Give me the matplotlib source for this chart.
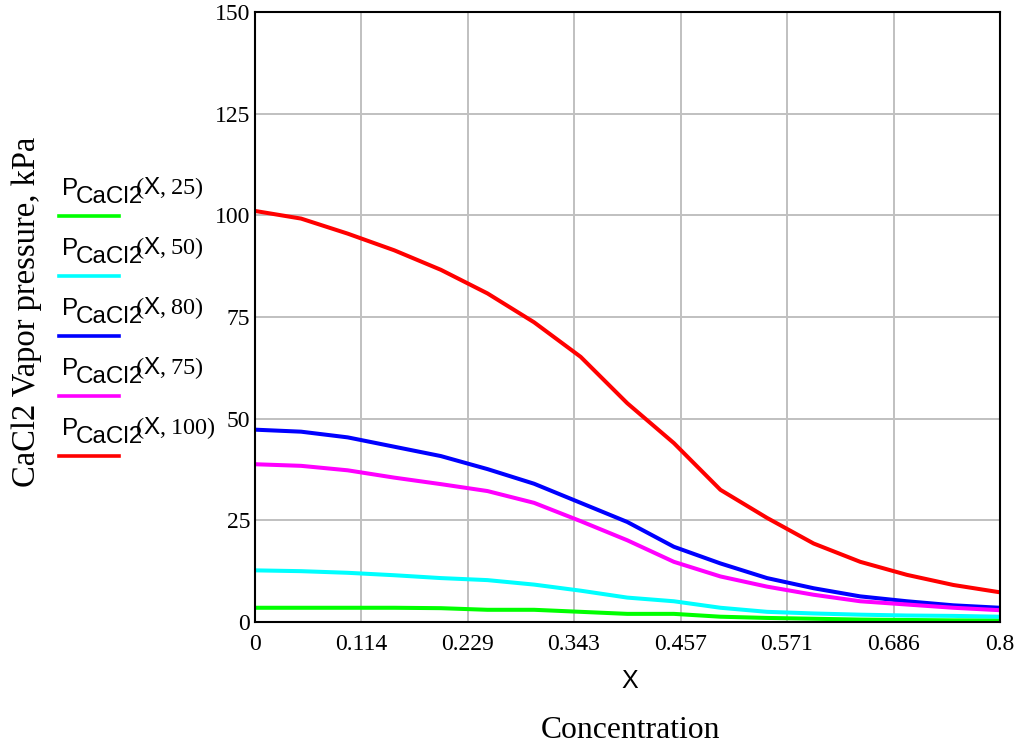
import matplotlib
matplotlib.use("Agg")
import matplotlib.pyplot as plt
import numpy as np

# Data
x = [0.00, 0.05, 0.10, 0.15, 0.20, 0.25, 0.30, 0.35, 0.40, 0.45,
     0.50, 0.55, 0.60, 0.65, 0.70, 0.75, 0.80]
p_25 = [3.5, 3.5, 3.5, 3.5, 3.4, 3.0, 3.0, 2.5, 2.0, 2.0,
        1.3, 1.0, 0.8, 0.6, 0.5, 0.4, 0.4]
p_50 = [12.7, 12.5, 12.1, 11.5, 10.8, 10.3, 9.2, 7.7, 6.0, 5.1,
        3.5, 2.5, 2.1, 1.8, 1.6, 1.5, 1.3]
p_80 = [47.3, 46.8, 45.4, 43.1, 40.8, 37.6, 34.0, 29.3, 24.6, 18.5,
        14.4, 10.8, 8.3, 6.3, 5.1, 4.1, 3.5]
p_75 = [38.8, 38.4, 37.3, 35.5, 33.9, 32.2, 29.3, 24.8, 20.1, 14.8,
        11.2, 8.7, 6.7, 5.1, 4.3, 3.5, 2.9]
p_100 = [101.1, 99.2, 95.5, 91.4, 86.6, 80.8, 73.7, 65.2, 53.8, 44.0,
         32.5, 25.6, 19.3, 14.8, 11.6, 9.1, 7.3]

series = [("25", p_25, "#00ff00"), ("50", p_50, "#00ffff"),
          ("80", p_80, "#0000ff"), ("75", p_75, "#ff00ff"),
          ("100", p_100, "#ff0000")]

x_tick_labels = ["0", "0.114", "0.229", "0.343", "0.457", "0.571", "0.686", "0.8"]
y_ticks = [0, 25, 50, 75, 100, 125, 150]

plt.rcParams['mathtext.fontset'] = 'custom'
plt.rcParams['mathtext.rm'] = 'Liberation Serif'
plt.rcParams['mathtext.sf'] = 'Liberation Sans'

W, H = 1024, 747
fig = plt.figure(figsize=(W / 100, H / 100), dpi=100)
ax = fig.add_axes([254.5 / W, 1 - 622 / H, (1000 - 254.5) / W, (622 - 12) / H])

for lab, vals, col in series:
    ax.plot(x, vals, color=col, lw=2.9, zorder=3)

ax.set_xlim(0, 0.8)
ax.set_ylim(0, 150)
ax.set_xticks([i * 0.8 / 7 for i in range(8)])
ax.set_xticklabels(x_tick_labels, family='Liberation Serif', fontsize=17)
ax.set_yticks(y_ticks)
ax.set_yticklabels([str(v) for v in y_ticks], family='Liberation Serif', fontsize=17)
ax.tick_params(length=0)
ax.tick_params(axis='x', pad=9)
ax.tick_params(axis='y', pad=3)
ax.grid(True, color='#c0c0c0', lw=1.4, zorder=0)
for s in ax.spines.values():
    s.set_linewidth(1.5)
    s.set_color('black')
    s.set_zorder(4)

# axis texts
fig.text(630 / W, 1 - 681 / H, "X", family='Liberation Sans', fontsize=18,
         ha='center', va='center')
fig.text(630 / W, 1 - 730 / H, "Concentration", family='Liberation Serif',
         fontsize=22.8, ha='center', va='center')
fig.text(27 / W, 1 - 312 / H, "CaCl2 Vapor pressure, kPa", family='Liberation Serif',
         fontsize=23.5, ha='center', va='center', rotation=90)

# legend built manually
for i, (lab, vals, col) in enumerate(series):
    y0 = 216 + 60 * i
    fig.add_artist(plt.Line2D([59 / W, 119 / W], [1 - y0 / H, 1 - y0 / H],
                              color=col, lw=2.6, transform=fig.transFigure))
    fig.text(62 / W, 1 - (y0 - 21) / H, "P", family='Liberation Sans', fontsize=17.5,
             ha='left', va='baseline')
    fig.text(76 / W, 1 - (y0 - 13) / H, "CaCl2", family='Liberation Sans', fontsize=17.5,
             ha='left', va='baseline')
    fig.text(135 / W, 1 - (y0 - 22) / H, r"$(\mathsf{X},\mathrm{" + lab + r"})$",
             fontsize=17.5, ha='left', va='baseline')

fig.savefig("out.png", dpi=100)
